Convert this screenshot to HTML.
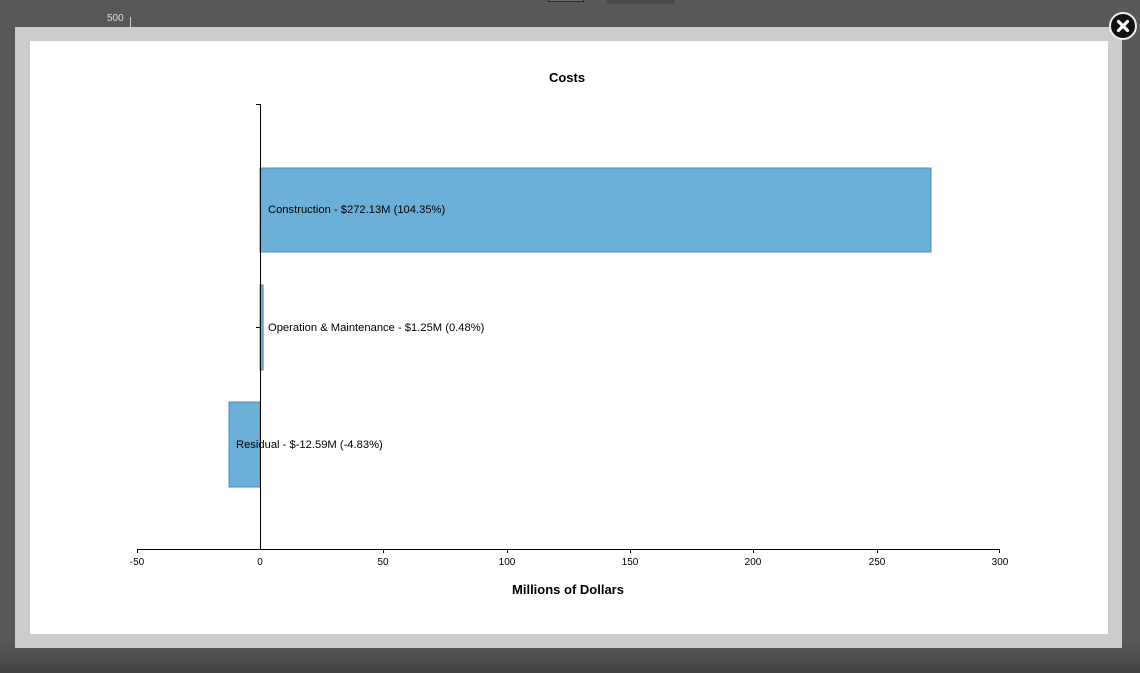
<!DOCTYPE html>
<html><head><meta charset="utf-8"><style>
html,body{margin:0;padding:0;width:1140px;height:673px;overflow:hidden;background:#595856;font-family:"Liberation Sans",Arial,sans-serif;}
</style></head><body>
<svg width="1140" height="673" xmlns="http://www.w3.org/2000/svg" style="position:absolute;left:0;top:0">
<defs><linearGradient id="sh" x1="0" y1="0" x2="0" y2="1"><stop offset="0" stop-color="#595856"/><stop offset="1" stop-color="#3f3e3d"/></linearGradient></defs>
<rect x="0" y="0" width="1140" height="673" fill="#595856"/>
<rect x="0" y="640" width="1140" height="33" fill="url(#sh)" opacity="0.8"/>
<rect x="548" y="0" width="36" height="2" fill="#2a2a2a"/>
<rect x="549" y="0" width="34" height="1" fill="#6a6a6a"/>
<rect x="607" y="0" width="68" height="4" fill="#4a4a4a"/>
<text x="107" y="21" font-size="10" fill="#ddd">500</text>
<line x1="130.5" y1="17" x2="130.5" y2="28" stroke="#ccc"/>
<rect x="15" y="27" width="1107" height="621" fill="#cccccc"/>
<rect x="30" y="41" width="1078" height="593" fill="#ffffff"/>
<circle cx="1123" cy="26" r="13" fill="#111" stroke="#eee" stroke-width="2"/>
<path d="M1118.5 21.5 L1127.5 30.5 M1127.5 21.5 L1118.5 30.5" stroke="#fff" stroke-width="3.2" stroke-linecap="round"/>
<text x="567" y="82" font-size="13" font-weight="bold" text-anchor="middle" fill="#000">Costs</text>
<rect x="260" y="168" width="671" height="84" fill="#6baed6" stroke="#4a90b8" stroke-width="1"/>
<rect x="260" y="285" width="3.1" height="85" fill="#6baed6" stroke="#4a90b8" stroke-width="1"/>
<rect x="229" y="402" width="31" height="85" fill="#6baed6" stroke="#4a90b8" stroke-width="1"/>
<line x1="260.5" y1="104" x2="260.5" y2="549" stroke="#000"/>
<line x1="256" y1="104.5" x2="260" y2="104.5" stroke="#000"/>
<line x1="256" y1="327.5" x2="260" y2="327.5" stroke="#000"/>
<line x1="137" y1="549.5" x2="1000" y2="549.5" stroke="#000"/>
<g font-size="11.2" fill="#000">
<text x="268" y="213">Construction - $272.13M (104.35%)</text>
<text x="268" y="331">Operation &amp; Maintenance - $1.25M (0.48%)</text>
<text x="236" y="448">Residual - $-12.59M (-4.83%)</text>
</g>
<g font-size="10" fill="#000" text-anchor="middle">
<text x="137" y="565">-50</text><text x="260" y="565">0</text><text x="383" y="565">50</text>
<text x="507" y="565">100</text><text x="630" y="565">150</text><text x="753" y="565">200</text>
<text x="877" y="565">250</text><text x="1000" y="565">300</text>
</g>
<g stroke="#000">
<line x1="137.5" y1="549" x2="137.5" y2="553"/><line x1="383.5" y1="549" x2="383.5" y2="553"/>
<line x1="507.5" y1="549" x2="507.5" y2="553"/><line x1="630.5" y1="549" x2="630.5" y2="553"/>
<line x1="753.5" y1="549" x2="753.5" y2="553"/><line x1="877.5" y1="549" x2="877.5" y2="553"/>
<line x1="999.5" y1="549" x2="999.5" y2="553"/>
</g>
<text x="568" y="594" font-size="13" font-weight="bold" text-anchor="middle" fill="#000">Millions of Dollars</text>
</svg>
</body></html>
